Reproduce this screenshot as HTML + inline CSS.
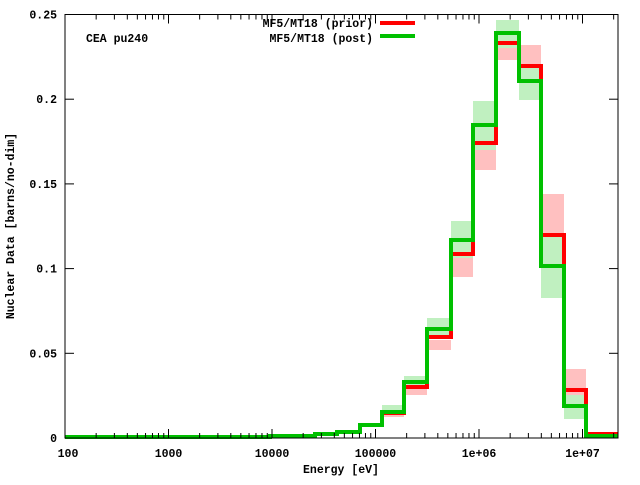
<!DOCTYPE html>
<html><head><meta charset="utf-8"><style>
body{margin:0;background:#fff}
svg text{font-family:"Liberation Mono","DejaVu Sans Mono",monospace;font-weight:bold;font-size:11.5px;fill:#000}
</style></head><body>
<svg id="s" width="640" height="480" xmlns="http://www.w3.org/2000/svg">
<g id="bands">
<rect x="382" y="408" width="22" height="9" fill="#ffc0c0"/>
<rect x="382" y="405" width="22" height="8" fill="#c0f0c0"/>
<rect x="404" y="387" width="23" height="8" fill="#ffc0c0"/>
<rect x="404" y="376" width="23" height="12" fill="#c0f0c0"/>
<rect x="427" y="340" width="24" height="10" fill="#ffc0c0"/>
<rect x="427" y="318" width="24" height="18" fill="#c0f0c0"/>
<rect x="451" y="249" width="22" height="28" fill="#ffc0c0"/>
<rect x="451" y="221" width="22" height="37" fill="#c0f0c0"/>
<rect x="473" y="149" width="23" height="21" fill="#ffc0c0"/>
<rect x="473" y="101" width="23" height="49" fill="#c0f0c0"/>
<rect x="496" y="48" width="23" height="12" fill="#ffc0c0"/>
<rect x="496" y="20" width="23" height="28" fill="#c0f0c0"/>
<rect x="519" y="45" width="22" height="34" fill="#ffc0c0"/>
<rect x="519" y="66" width="22" height="34" fill="#c0f0c0"/>
<rect x="541" y="194" width="23" height="71" fill="#ffc0c0"/>
<rect x="541" y="235" width="23" height="63" fill="#c0f0c0"/>
<rect x="564" y="369" width="22" height="41" fill="#ffc0c0"/>
<rect x="564" y="395" width="22" height="24" fill="#c0f0c0"/>
</g>
<path d="M65,437 H270 V436 H315 V434 H337 V432 H360 V425 H382 V413 H404 V387 H427 V337 H451 V254 H473 V143 H496 V43 H519 V66 H541 V235 H564 V390 H586 V434 H618" fill="none" stroke="#ff0000" stroke-width="4"/>
<path d="M65,437 H270 V436 H315 V434 H337 V432 H360 V425 H382 V412 H404 V382 H427 V329 H451 V240 H473 V125 H496 V33 H519 V81 H541 V266 H564 V406 H586 V436 H618" fill="none" stroke="#00c000" stroke-width="4"/>
<rect x="65" y="14.5" width="553" height="423.5" fill="none" stroke="#000" stroke-width="1"/>
<g id="ticks" stroke="#000" stroke-width="1"></g>
<g id="lbl"></g>
<text x="86" y="42">CEA pu240</text>
<text x="373" y="27" text-anchor="end">MF5/MT18 (prior)</text>
<line x1="380" y1="23" x2="415" y2="23" stroke="#ff0000" stroke-width="4"/>
<text x="373" y="42" text-anchor="end">MF5/MT18 (post)</text>
<line x1="380" y1="36" x2="415" y2="36" stroke="#00c000" stroke-width="4"/>
<text x="341" y="473" text-anchor="middle">Energy [eV]</text>
<text transform="translate(14,226) rotate(-90)" text-anchor="middle">Nuclear Data [barns/no-dim]</text>
</svg>
<script>
var ns="http://www.w3.org/2000/svg",t=document.getElementById("ticks"),l=document.getElementById("lbl");
function ln(a,b,c,d){var e=document.createElementNS(ns,"line");e.setAttribute("x1",a);e.setAttribute("y1",b);e.setAttribute("x2",c);e.setAttribute("y2",d);t.appendChild(e);}
function tx(x,y,s,anc){var e=document.createElementNS(ns,"text");e.setAttribute("x",x);e.setAttribute("y",y);e.setAttribute("text-anchor",anc);e.textContent=s;l.appendChild(e);}
var X0=65,D=103.5;
var names=["100","1000","10000","100000","1e+06","1e+07"];
for(var d=0;d<6;d++){for(var m=1;m<10;m++){var x=X0+D*(d+Math.log10(m));if(x>618)break;var len=m==1?9:5;ln(x,438,x,438-len);ln(x,14.5,x,14.5+len);if(m==1)tx(d==0?x+3:x,457,names[d],"middle");}}
var yl=["0","0.05","0.1","0.15","0.2","0.25"];
for(var i=0;i<6;i++){var y=438-i*84.7;ln(65,y,74,y);ln(618,y,609,y);tx(57,y+4,yl[i],"end");}
</script>
</body></html>
